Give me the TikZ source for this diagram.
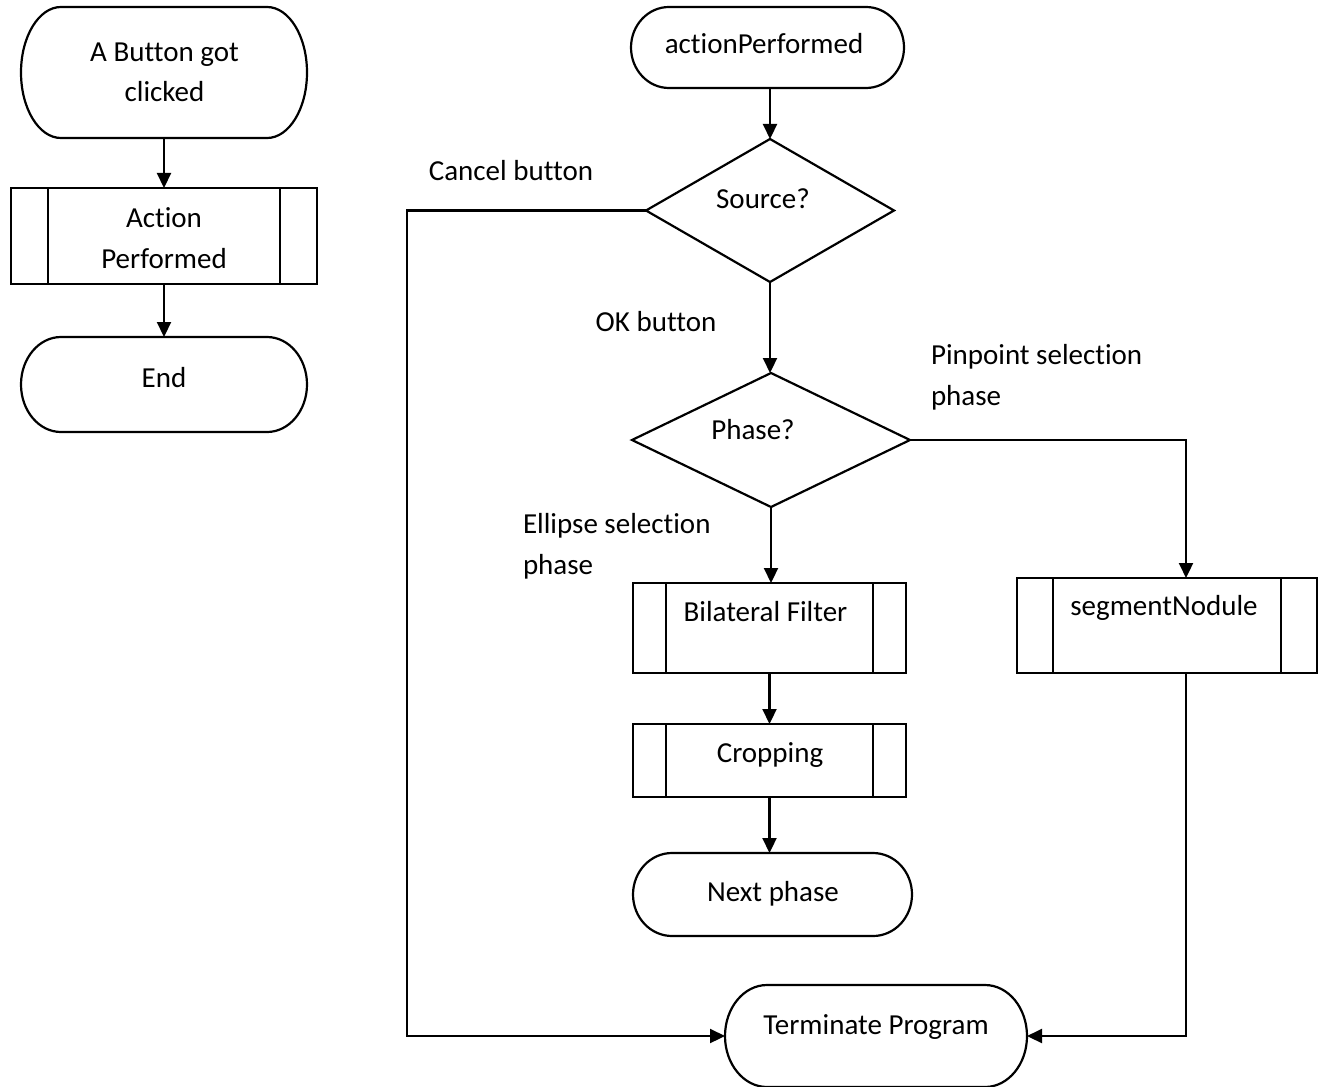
\documentclass[tikz,border=0pt]{standalone}
\usepackage{fontspec}
\setmainfont{Carlito}[Ligatures=NoCommon]
\usetikzlibrary{arrows.meta,calc}
\tikzset{
  ln/.style={line width=2.2pt, line join=miter},
  box/.style={rectangle, inner sep=0pt, outer sep=0pt},
  arr/.style={ln, -{Triangle[width=14pt,length=15pt]}},
  txt/.style={inner sep=0pt, outer sep=0pt, font=\fontsize{29pt}{40.5pt}\selectfont, align=center},
  ltxt/.style={txt, align=left},
}
\newcommand\termoutline[2]{%
  \draw[ln] let \p1=(#1.north), \p2=(#1.south), \n1={(\y1-\y2)/2} in
    ([xshift=#2]#1.north west) -- ([xshift=-#2]#1.north east)
    arc[start angle=90, end angle=-90, x radius=#2, y radius=\n1]
    -- ([xshift=#2]#1.south west)
    arc[start angle=270, end angle=90, x radius=#2, y radius=\n1] -- cycle;}
\newcommand\procbars[2]{%
  \draw[ln] (#1.north west) rectangle (#1.south east);
  \draw[ln] ([xshift=#2]#1.north west) -- ([xshift=#2]#1.south west)
            ([xshift=-#2]#1.north east) -- ([xshift=-#2]#1.south east);}
\newcommand\diamondoutline[1]{%
  \draw[ln] (#1.north) -- (#1.east) -- (#1.south) -- (#1.west) -- cycle;}
\begin{document}
\begin{tikzpicture}[x=1pt,y=-1pt]
\useasboundingbox (0,0) rectangle (1321,1086);
% ---------- left column ----------
\node[box, minimum width=286pt, minimum height=131pt] (start) at (164,72.5) {};
\termoutline{start}{40pt}
\node[txt, anchor=base] (tstart) at (164.5,102) {A Button got\\clicked};

\node[box, minimum width=306pt, minimum height=96pt] (action) at (164,236) {};
\procbars{action}{37pt}
\node[txt, anchor=base] (taction) at (164,268) {Action\\Performed};

\node[box, minimum width=286pt, minimum height=95pt] (endl) at (164,384.5) {};
\termoutline{endl}{40pt}
\node[txt, anchor=base] (tend) at (164,387) {End};

\draw[arr] (start.south) -- (action.north);
\draw[arr] (action.south) -- (endl.north);

% ---------- right part ----------
\node[box, minimum width=273pt, minimum height=81pt] (ap) at (767.5,47.5) {};
\termoutline{ap}{38pt}
\node[txt, anchor=base] (tap) at (764,54) {actionPerformed};

\node[box, minimum width=248pt, minimum height=143pt] (src) at (770,210.5) {};
\diamondoutline{src}
\node[txt, anchor=base] (tsrc) at (763,208) {Source?};

\node[box, minimum width=278pt, minimum height=134pt] (phase) at (771,440) {};
\diamondoutline{phase}
\node[txt, anchor=base] (tphase) at (753,439) {Phase?};

\node[box, minimum width=273pt, minimum height=90pt] (bil) at (769.5,628) {};
\procbars{bil}{33pt}
\node[txt, anchor=base] (tbil) at (765.5,621) {Bilateral Filter};

\node[box, minimum width=273pt, minimum height=73pt] (crop) at (769.5,760.5) {};
\procbars{crop}{33pt}
\node[txt, anchor=base] (tcrop) at (770,762) {Cropping};

\node[box, minimum width=279pt, minimum height=83pt] (next) at (772.5,894.5) {};
\termoutline{next}{39pt}
\node[txt, anchor=base] (tnext) at (773,901) {Next phase};

\node[box, minimum width=300pt, minimum height=95pt] (seg) at (1167,625.5) {};
\procbars{seg}{36pt}
\node[txt, anchor=base] (tseg) at (1164,615) {segmentNodule};

\node[box, minimum width=302pt, minimum height=102pt] (term) at (876,1036) {};
\termoutline{term}{42pt}
\node[txt, anchor=base] (tterm) at (876,1034) {Terminate Program};

% labels
\node[txt, anchor=base] (lcancel) at (511,180) {Cancel button};
\node[txt, anchor=base] (lok) at (656,331) {OK button};
\node[ltxt, anchor=base west] (lpin) at (931,405) {Pinpoint selection\\phase};
\node[ltxt, anchor=base west] (lell) at (523,574) {Ellipse selection\\phase};

% connectors
\coordinate (cx) at (407,210.5);
\draw[arr] (ap.south -| src.north) -- (src.north);
\draw[arr] (src.south) -- (src.south |- phase.north);
\draw[arr] (src.west) -- (cx) |- (term.west);
\draw[arr] (phase.south) -- (phase.south |- bil.north);
\draw[arr] (phase.east) -| ([xshift=19pt]seg.north);
\draw[arr] (bil.south) -- (bil.south |- crop.north);
\draw[arr] (crop.south) -- (crop.south |- next.north);
\draw[arr] ([xshift=19pt]seg.south) |- (term.east);
\end{tikzpicture}
\end{document}
